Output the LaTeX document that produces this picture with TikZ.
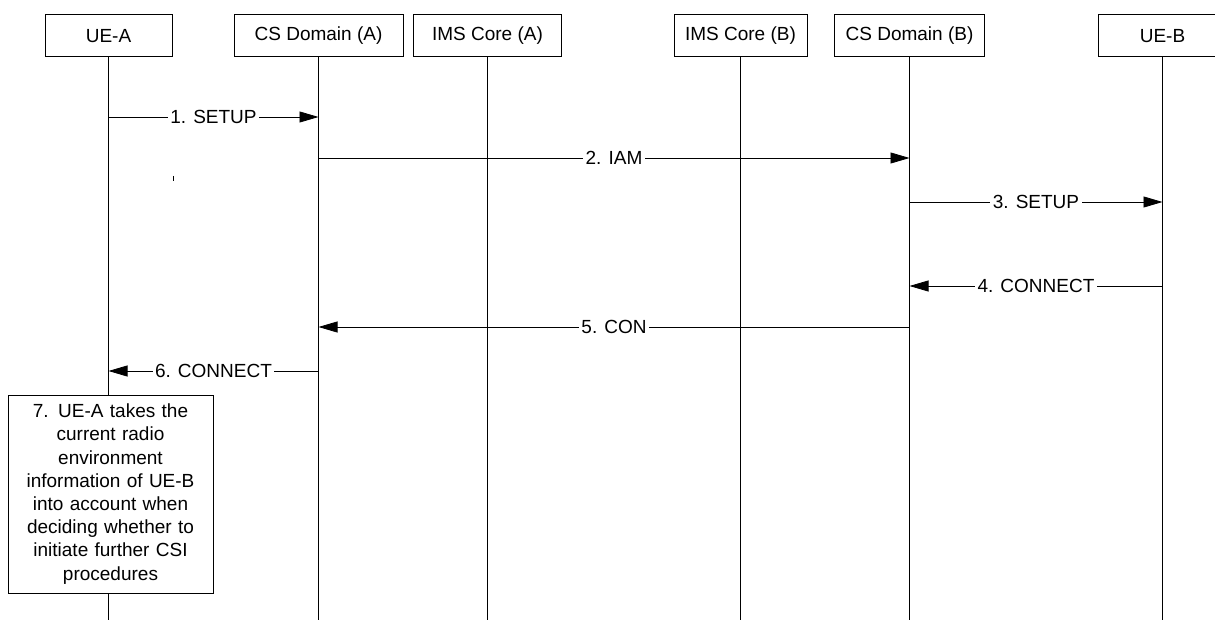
\documentclass[tikz,border=0pt]{standalone}
\usepackage{fontspec}
\setmainfont{Liberation Sans}
\usetikzlibrary{arrows.meta}
\begin{document}
\begin{tikzpicture}[x=1pt, y=-1pt,
        box/.style={draw, line width=1pt, minimum height=42pt, inner sep=0pt,
            font=\fontsize{19}{23.2}\selectfont},
        life/.style={line width=1pt},
        msg/.style={-{Triangle[length=19pt, width=11pt]}, line width=0.8pt},
        lbl/.style={fill=white, inner sep=2.5pt, font=\fontsize{19}{23.2}\selectfont}]
        \useasboundingbox (0,0) rectangle (1215,620);

        % Instanzen: Name / x-Mitte / Breite / Text
        \foreach \n/\x/\w/\t in {
            uea/108.5/127/UE-A,
            csa/318.5/169/CS Domain (A),
            imsa/487.5/148/IMS Core (A),
            imsb/740.5/133/IMS Core (B),
            csb/909.5/150/CS Domain (B),
            ueb/1162.5/128/UE-B}
        {
            \node[box, minimum width=\w pt] (\n) at (\x,36) {\t};
            % Lebenslinie
            \coordinate (\n-end) at (\n |- 0,620);
            \draw[life] (\n.south) -- (\n-end);
        }

        % Nachrichten: von / nach / y-Position / Text
        \foreach \von/\nach/\y/\t in {
            uea/csa/117/1. SETUP,
            csa/csb/158/2. IAM,
            csb/ueb/202/3. SETUP,
            ueb/csb/286/4. CONNECT,
            csb/csa/327/5. CON,
            csa/uea/371/6. CONNECT}
        {
            \draw[msg] (\von |- 0,\y) -- node[lbl] {\t} (\nach |- 0,\y);
        }

        % Hinweis
        \node[draw, fill=white, line width=1pt, minimum width=205pt, minimum height=198pt,
            text width=200pt, align=center, inner sep=0pt,
            font=\fontsize{19}{23.2}\selectfont] (note) at (110.5,494)
            {7. UE-A takes the\\ current radio\\ environment\\ information of UE-B\\
             into account when\\ deciding whether to\\ initiate further CSI\\ procedures};

        % Strich
        \draw[line width=1pt] (173,176) -- (173,181);
\end{tikzpicture}
\end{document}
